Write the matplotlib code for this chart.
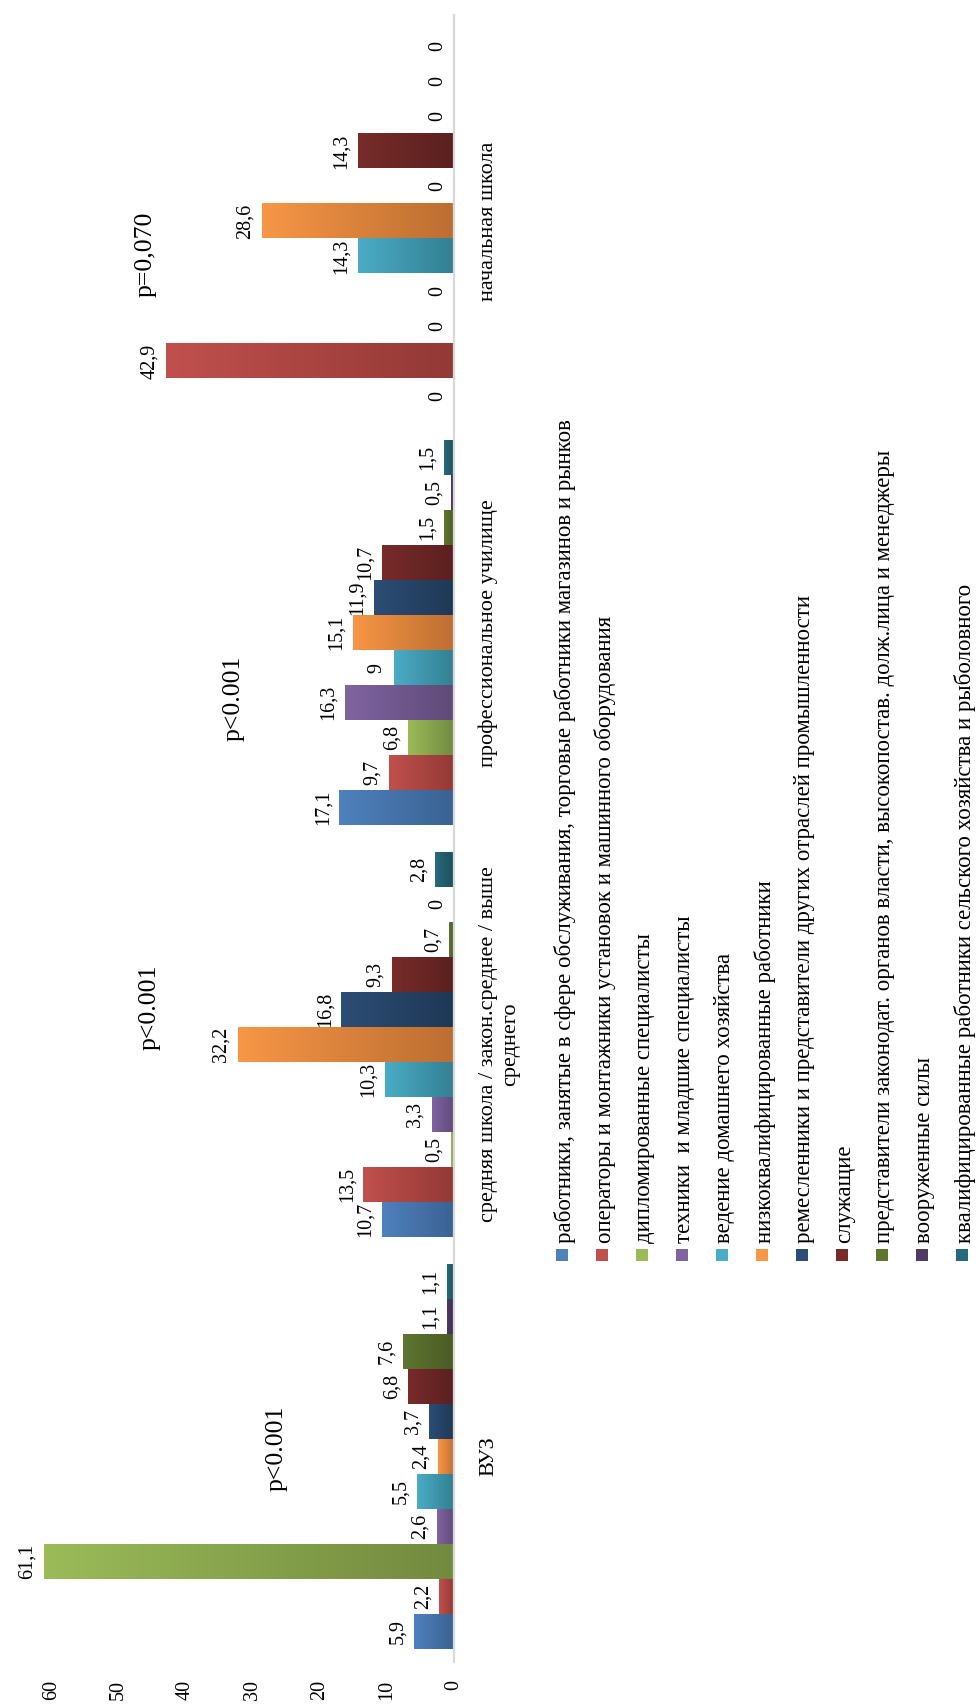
import numpy as np
import matplotlib
matplotlib.use('Agg')
import matplotlib.pyplot as plt
from matplotlib.colors import LinearSegmentedColormap
from matplotlib.patches import Rectangle

plt.rcParams['font.family'] = ['Liberation Serif', 'DejaVu Serif']

# уровни образования (снизу вверх)
education = ['ВУЗ',
             'средняя школа / закон.среднее / выше\nсреднего',
             'профессиональное училище',
             'начальная школа']

# группы профессий
professions = ['работники, занятые в сфере обслуживания, торговые работники магазинов и рынков',
               'операторы и монтажники установок и машинного оборудования',
               'дипломированные специалисты',
               'техники  и младшие специалисты',
               'ведение домашнего хозяйства',
               'низкоквалифицированные работники',
               'ремесленники и представители других отраслей промышленности',
               'служащие',
               'представители законодат. органов власти, высокопостав. долж.лица и менеджеры',
               'вооруженные силы',
               'квалифицированные работники сельского хозяйства и рыболовного']

# доли (%) по уровням образования
vuz = [5.9, 2.2, 61.1, 2.6, 5.5, 2.4, 3.7, 6.8, 7.6, 1.1, 1.1]
school = [10.7, 13.5, 0.5, 3.3, 10.3, 32.2, 16.8, 9.3, 0.7, 0, 2.8]
college = [17.1, 9.7, 6.8, 16.3, 9, 15.1, 11.9, 10.7, 1.5, 0.5, 1.5]
primary = [0, 42.9, 0, 0, 14.3, 28.6, 0, 14.3, 0, 0, 0]

p_labels = ['p<0.001', 'p<0.001', 'p<0.001', 'p=0,070']
p_x = [26.5, 45.3, 32.8, 46.0]
p_y = [0.02, 1.09, 1.84, 2.92]

value_ticks = [0, 10, 20, 30, 40, 50, 60]

# светлый / темный край градиента для каждой серии
colors = [('#4F81BD', '#3A6293'), ('#C0504D', '#933936'), ('#9BBB59', '#728A3F'),
          ('#8064A2', '#5E4A78'), ('#4BACC6', '#327F91'), ('#F79646', '#BC6E31'),
          ('#2C4D75', '#1F3855'), ('#772C2A', '#5A201F'), ('#5F7530', '#4A5B25'),
          ('#4D3B62', '#3A2D4A'), ('#276A7C', '#1D4F5C')]


def fmt(v):
    return ('%g' % v).replace('.', ',')


def gradient_bar(ax, bar, light, dark):
    x0, y0 = bar.get_xy()
    w, h = bar.get_width(), bar.get_height()
    if w == 0:
        return
    cmap = LinearSegmentedColormap.from_list('g', [light, dark])
    grad = np.linspace(0, 1, 256).reshape(1, -1)
    ax.imshow(grad, extent=(x0 + w, x0, y0, y0 + h), cmap=cmap,
              aspect='auto', zorder=2, interpolation='bilinear')


fig = plt.figure(figsize=(9.78, 17.07), dpi=100)
ax = fig.add_axes([0, 0.02636, 0.4642, 0.9912 - 0.02636])

data = np.array([vuz, school, college, primary])
n = len(professions)
bar_h = 0.935 / n
pos = np.arange(len(education))

for i in range(n):
    offs = pos + (i - (n - 1) / 2) * bar_h
    bars = ax.barh(offs, data[:, i], height=bar_h, color=colors[i][1], zorder=1)
    for bar, v in zip(bars, data[:, i]):
        gradient_bar(ax, bar, colors[i][0], colors[i][1])
        ax.annotate(fmt(v), xy=(v, bar.get_y() + bar.get_height() / 2),
                    xytext=(-5, 0), textcoords='offset points',
                    rotation=90, ha='right', va='center', fontsize=14.5)

for t, x, y in zip(p_labels, p_x, p_y):
    ax.text(x, y, t, rotation=90, ha='center', va='center', fontsize=18.5)

ax.set_xlim(454 / 6.71, 0)
ax.set_ylim(-0.5, len(education) - 0.5)

ax.set_xticks(value_ticks)
ax.set_xticklabels([str(t) for t in value_ticks], rotation=90, fontsize=14.5)
ax.tick_params(axis='x', length=0, pad=13)

ax.set_yticks(pos)
ax.set_yticklabels(education, rotation=90, fontsize=16, va='center',
                   multialignment='center')
ax.tick_params(axis='y', left=False, labelleft=False, right=False,
               labelright=True, length=0, pad=18)

for s in ['left', 'top', 'bottom']:
    ax.spines[s].set_visible(False)
ax.spines['right'].set_color('#d9d9d9')
ax.spines['right'].set_linewidth(1.6)

# легенда: повернутые подписи справа от графика
W, H = 978.0, 1707.0
for i, name in enumerate(professions):
    cx = 562 + 40 * i
    fig.patches.append(Rectangle(((cx - 6) / W, 1 - (1255 + 6) / H), 12 / W, 12 / H,
                                 transform=fig.transFigure, facecolor=colors[i][0],
                                 edgecolor='none'))
    fig.text((cx + 3) / W, 1 - 1243 / H, name, rotation=90, ha='center', va='bottom',
             fontsize=16.5)

fig.savefig('out.png', dpi=100, facecolor='white')
